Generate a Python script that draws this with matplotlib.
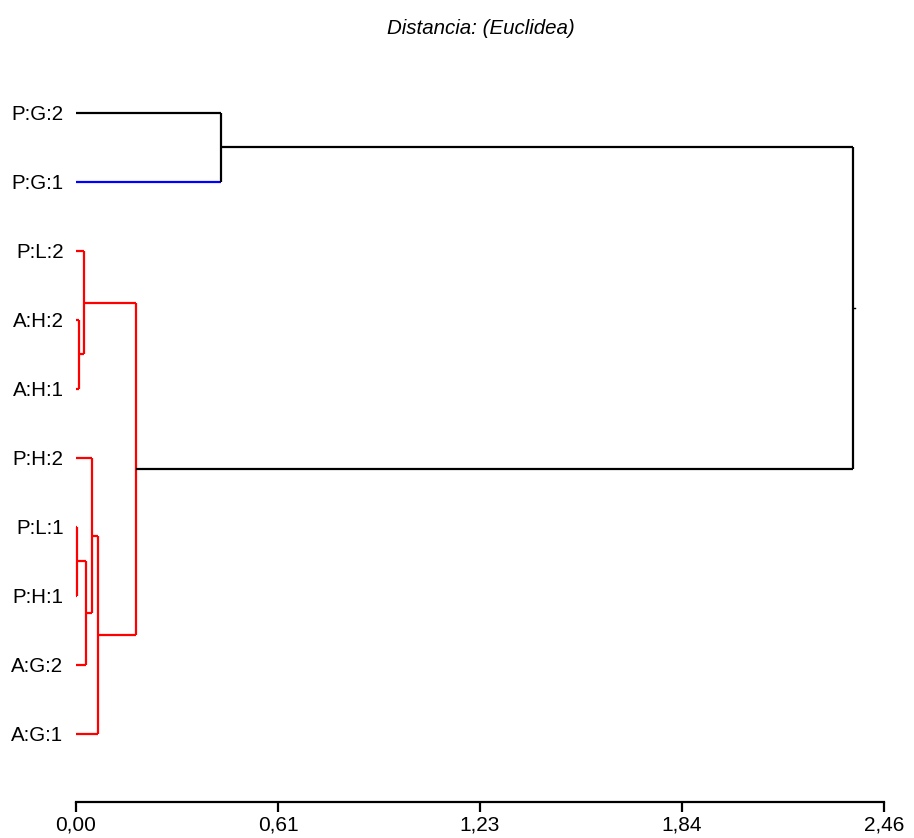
import matplotlib
matplotlib.use('Agg')
import matplotlib.pyplot as plt

plt.rcParams['font.family'] = ['Liberation Sans', 'DejaVu Sans']

# leaf labels, top to bottom
labels = ["P:G:2", "P:G:1", "P:L:2", "A:H:2", "A:H:1",
          "P:H:2", "P:L:1", "P:H:1", "A:G:2", "A:G:1"]

# merges: (child a, child b, distance); new clusters numbered from 10
merges = [
    (3, 4, 0.008),      # 10
    (2, 10, 0.024),     # 11
    (6, 7, 0.004),      # 12
    (12, 8, 0.030),     # 13
    (5, 13, 0.048),     # 14
    (14, 9, 0.066),     # 15
    (11, 15, 0.183),    # 16
    (0, 1, 0.441),      # 17
    (17, 16, 2.365),    # 18 (root)
]

# colour of each node's branch to its parent, and of each merge's vertical
branch_colors = ['black', '#0000ff'] + ['red'] * 8 + ['red'] * 6 + ['black', 'black']
vert_colors = ['red'] * 7 + ['black', 'black']

tick_vals = [0.0, 0.615, 1.23, 1.845, 2.46]
tick_labels = ["0,00", "0,61", "1,23", "1,84", "2,46"]

fig = plt.figure(figsize=(9.14, 8.38), dpi=100)
fig.patch.set_facecolor('white')
ax = fig.add_axes([0.0832, 0.043, 0.884, 0.8634])

n = len(labels)
ypos = {i: float(i) for i in range(n)}
height = {i: 0.0 for i in range(n)}

lw = 1.6
for k, (a, b, h) in enumerate(merges):
    node = n + k
    for c in (a, b):
        ax.plot([height[c], h], [ypos[c], ypos[c]], color=branch_colors[c],
                lw=lw, solid_capstyle='butt', clip_on=False)
    ax.plot([h, h], [ypos[a], ypos[b]], color=vert_colors[k], lw=lw,
            solid_capstyle='butt', clip_on=False)
    ypos[node] = (ypos[a] + ypos[b]) / 2
    height[node] = h

# tiny stub at the root
root = n + len(merges) - 1
ax.plot([height[root], height[root] + 0.006], [ypos[root], ypos[root]],
        color='black', lw=1.0, clip_on=False)

ax.set_xlim(0, 2.46)
ax.set_ylim(9.985, -0.5)
ax.set_yticks(range(n))
ax.set_yticklabels(labels, fontsize=14.8)
ax.tick_params(axis='y', length=0, pad=9)
ax.set_xticks(tick_vals)
ax.set_xticklabels(tick_labels, fontsize=15)
ax.tick_params(axis='x', direction='out', length=7, width=1.6, pad=3)

for s in ['top', 'right', 'left']:
    ax.spines[s].set_visible(False)
ax.spines['bottom'].set_linewidth(1.6)

fig.text(0.526, 1 - 28 / 838, "Distancia: (Euclidea)", ha='center', va='center',
         fontsize=14.8, style='italic')

plt.savefig('out.png', dpi=100, facecolor='white')
